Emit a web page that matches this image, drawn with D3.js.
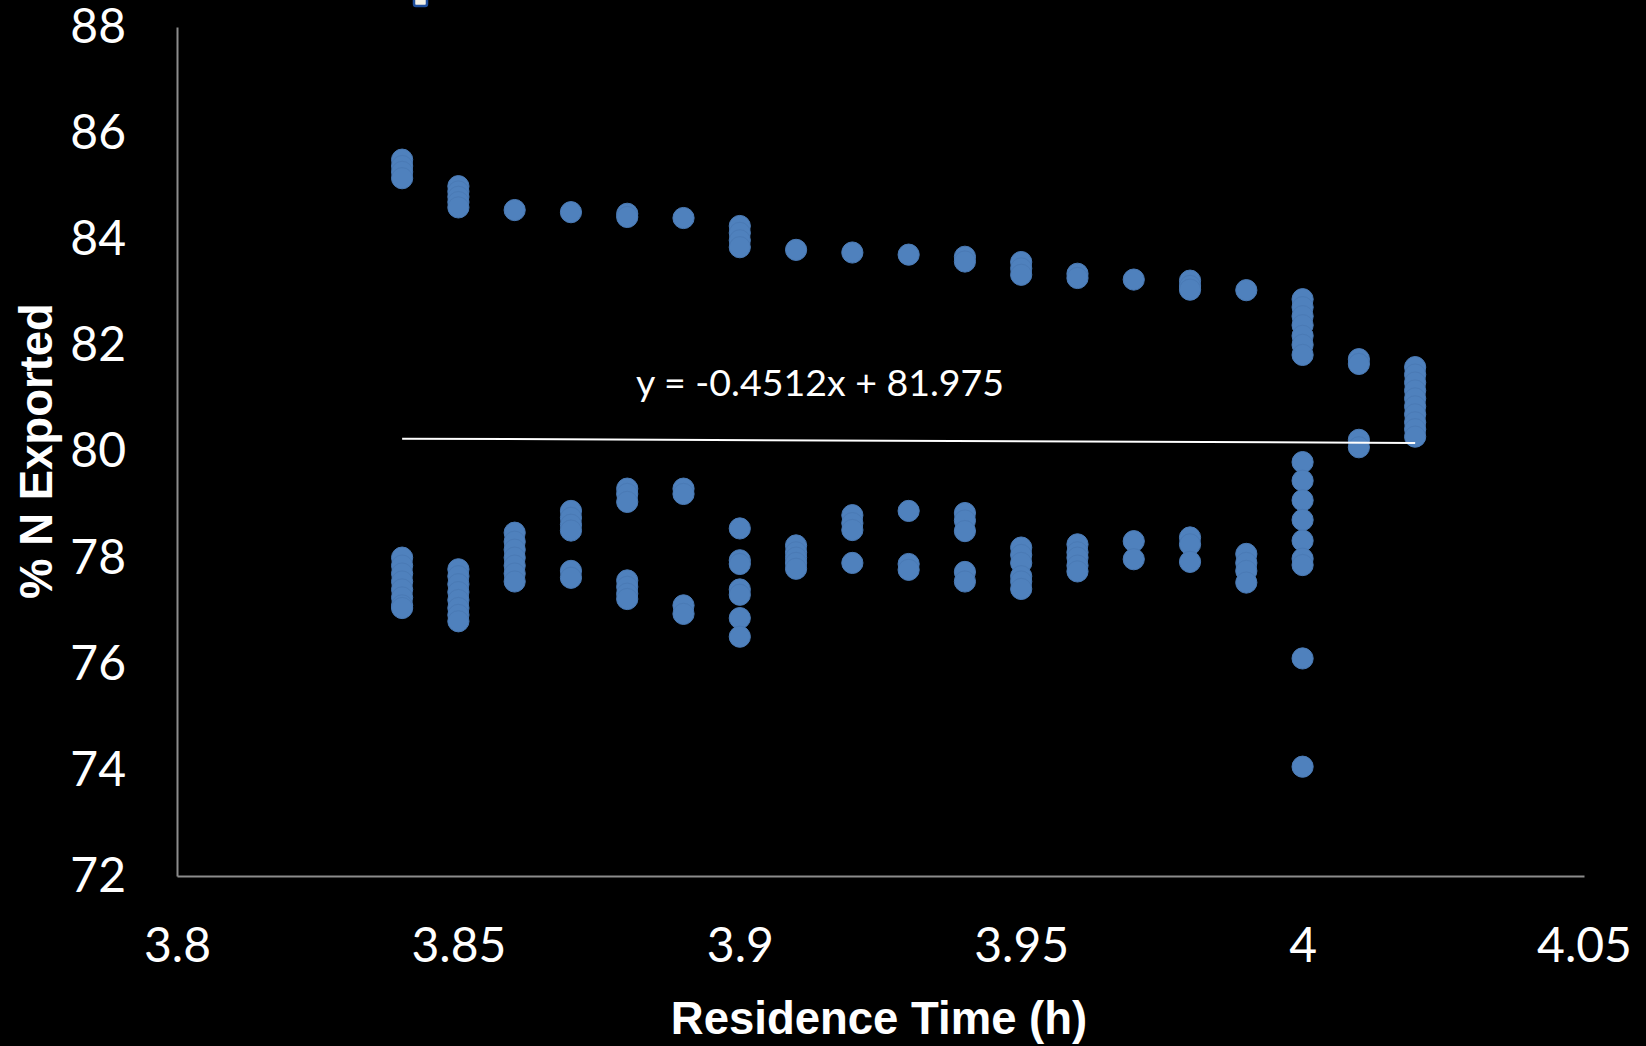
<!DOCTYPE html>
<html>
<head>
<meta charset="utf-8">
<script src="https://cdn.jsdelivr.net/npm/d3@7"></script>
<style>
  html, body { margin: 0; padding: 0; background: #000; }
  svg { display: block; }
</style>
</head>
<body>
<svg id="chart" width="1646" height="1046"></svg>
<script>
// Residence time (h) at each sampled column
const residenceTimes = [3.84, 3.85, 3.86, 3.87, 3.88, 3.89, 3.90, 3.91, 3.92, 3.93,
                        3.94, 3.95, 3.96, 3.97, 3.98, 3.99, 4.00, 4.01, 4.02];

// % N exported, upper branch of runs (one list per residence time)
const upperBranch = [
  [85.5, 85.38, 85.27, 85.15],
  [85.0, 84.9, 84.8, 84.7, 84.6],
  [84.55],
  [84.51],
  [84.48, 84.42],
  [84.40],
  [84.25, 84.12, 83.98, 83.85],
  [83.80],
  [83.75],
  [83.71],
  [83.67, 83.58],
  [83.57, 83.45, 83.33],
  [83.35, 83.27],
  [83.24],
  [83.22, 83.12, 83.05],
  [83.04],
  [82.87, 82.72, 82.55, 82.38, 82.18, 82.01, 81.82],
  [81.74, 81.65],
  [81.59, 81.45, 81.3, 81.15, 81.0, 80.85, 80.7, 80.55, 80.42, 80.28]
];

// % N exported, lower branch of runs (one list per residence time)
const lowerBranch = [
  [78.0, 77.85, 77.7, 77.55, 77.4, 77.25, 77.1, 77.05],
  [77.78, 77.65, 77.5, 77.35, 77.2, 77.05, 76.92, 76.8],
  [78.47, 78.3, 78.15, 78.0, 77.85, 77.7, 77.55],
  [78.88, 78.75, 78.62, 78.51, 77.75, 77.62],
  [79.3, 79.2, 79.05, 77.57, 77.45, 77.32, 77.22],
  [79.3, 79.2, 77.1, 76.94],
  [78.55, 77.95, 77.88, 77.4, 77.3, 76.86, 76.51],
  [78.23, 78.1, 78.0, 77.9, 77.79],
  [78.8, 78.65, 78.52, 77.9],
  [78.88, 77.88, 77.77],
  [78.84, 78.7, 78.5, 77.73, 77.55],
  [78.19, 78.05, 77.9, 77.65, 77.55, 77.41],
  [78.25, 78.1, 78.0, 77.85, 77.74],
  [78.31, 77.97],
  [78.38, 78.25, 77.92],
  [78.07, 77.9, 77.75, 77.53],
  [79.8, 79.45, 79.08, 78.71, 78.32, 77.98, 77.86, 76.1, 74.06],
  [80.22, 80.08],
  []
];

// Axis ticks and labels
const xTicks = [3.8, 3.85, 3.9, 3.95, 4.0, 4.05];
const xTickLabels = ["3.8", "3.85", "3.9", "3.95", "4", "4.05"];
const yTicks = [72, 74, 76, 78, 80, 82, 84, 86, 88];

// Linear trendline fitted over the runs
const trendSlope = -0.4512;
const trendIntercept = 81.975;
const trendLabel = "y = -0.4512x + 81.975";

const FONT = "Lato, 'Open Sans', sans-serif";
const TITLE_FONT = "'Liberation Sans', Arial, sans-serif";
const svg = d3.select("#chart");

const x = d3.scaleLinear().domain([3.8, 4.05]).range([177, 1584]);
const y = d3.scaleLinear().domain([72, 88]).range([876, 27]);

// Flatten the runs into points
const points = [];
residenceTimes.forEach((t, i) => {
  upperBranch[i].forEach(v => points.push({ t, v }));
  lowerBranch[i].forEach(v => points.push({ t, v }));
});

// Axes
const xAxis = d3.axisBottom(x)
  .tickValues(xTicks)
  .tickFormat((d, i) => xTickLabels[i])
  .tickSize(0)
  .tickPadding(52);

const yAxis = d3.axisLeft(y)
  .tickValues(yTicks)
  .tickFormat(d3.format("d"))
  .tickSize(0)
  .tickPadding(51);

const gx = svg.append("g").attr("transform", `translate(0,${y(72)})`).call(xAxis);
const gy = svg.append("g").attr("transform", `translate(${x(3.8)},0)`).call(yAxis);

[gx, gy].forEach(g => {
  g.select(".domain").attr("stroke", "#8c8c8c").attr("stroke-width", 2);
  g.selectAll("text")
    .attr("fill", "#fff")
    .style("font-family", FONT)
    .style("font-size", "48px");
});

// Markers
svg.append("g")
  .selectAll("circle")
  .data(points)
  .join("circle")
  .attr("cx", d => x(d.t))
  .attr("cy", d => y(d.v))
  .attr("r", 10.6)
  .attr("fill", "#4f81bd")
  .attr("stroke", "#4a7ab5")
  .attr("stroke-width", 1);

// Trendline across the sampled range
const tMin = d3.min(residenceTimes), tMax = d3.max(residenceTimes);
svg.append("line")
  .attr("x1", x(tMin))
  .attr("y1", y(trendSlope * tMin + trendIntercept))
  .attr("x2", x(tMax))
  .attr("y2", y(trendSlope * tMax + trendIntercept))
  .attr("stroke", "#fff")
  .attr("stroke-width", 2);

svg.append("text")
  .attr("x", 636)
  .attr("y", 396)
  .attr("fill", "#fff")
  .style("font-family", FONT)
  .style("font-size", "37.5px")
  .text(trendLabel);

// Axis titles
svg.append("text")
  .attr("x", 879)
  .attr("y", 1034)
  .attr("text-anchor", "middle")
  .attr("fill", "#fff")
  .style("font-family", TITLE_FONT)
  .style("font-weight", "bold")
  .style("font-size", "45.5px")
  .text("Residence Time (h)");

svg.append("text")
  .attr("transform", "translate(52,451) rotate(-90)")
  .attr("text-anchor", "middle")
  .attr("fill", "#fff")
  .style("font-family", TITLE_FONT)
  .style("font-weight", "bold")
  .style("font-size", "45.5px")
  .text("% N Exported");

// Edge of the header strip above the plot
svg.append("rect")
  .attr("x", 414).attr("y", -6)
  .attr("width", 13).attr("height", 12)
  .attr("rx", 2)
  .attr("fill", "#f4f1e6")
  .attr("stroke", "#1f4e9c")
  .attr("stroke-width", 2.5);
</script>
</body>
</html>
